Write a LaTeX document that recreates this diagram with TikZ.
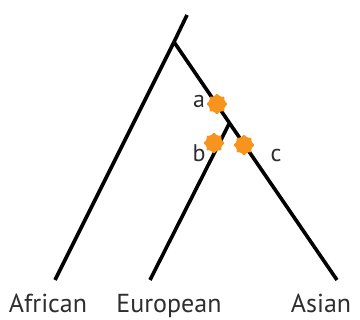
\documentclass[tikz,border=0pt]{standalone}
\usepackage{fontspec}
\setmainfont{PT Sans}
\usetikzlibrary{shapes.geometric}
\definecolor{mutorange}{HTML}{F7941D}

\begin{document}
\begin{tikzpicture}[x=1pt,y=-1pt,line width=3.6pt,
  mutation/.style={star,star points=8,star point ratio=1.3,fill=mutorange,draw=none,inner sep=0pt,minimum size=21pt,rounded corners=1pt},
  tiplabel/.style={font=\fontsize{26}{28}\selectfont,text=black!82,anchor=base},
  mutlabel/.style={font=\fontsize{24}{26}\selectfont,text=black!82,anchor=base}]
  \useasboundingbox (0,0) rectangle (360,320);
  % Tree points
  \coordinate (stem) at (187,15);
  \coordinate (root) at (174,42);
  \coordinate (split) at (229,124);
  \coordinate (afr) at (55,280);
  \coordinate (eur) at (150,280);
  \coordinate (asi) at (337,280);
  % Branches
  \draw (stem) -- (root);
  \draw (root) -- (afr);
  \draw (root) -- (asi);
  \draw (split) -- (eur);
  % Mutations on the branches
  \node[mutation] (mutA) at (217,104) {};
  \node[mutation] (mutB) at (214,143) {};
  \node[mutation] (mutC) at (244,145) {};
  \node[mutlabel] (labA) at (199,108) {a};
  \node[mutlabel] (labB) at (199,162) {b};
  \node[mutlabel] (labC) at (276,162) {c};
  % Population names
  \node[tiplabel] (nAfr) at (48,313) {African};
  \node[tiplabel] (nEur) at (169,313) {European};
  \node[tiplabel] (nAsi) at (321,313) {Asian};
\end{tikzpicture}
\end{document}
